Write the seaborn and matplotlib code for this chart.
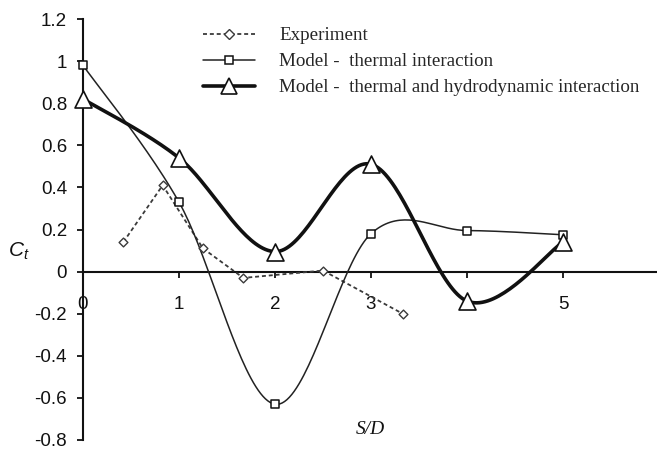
import numpy as np
import pandas as pd
import matplotlib
matplotlib.use("Agg")
import matplotlib.pyplot as plt
from matplotlib.lines import Line2D
from matplotlib.ticker import FixedLocator, FuncFormatter
import seaborn as sns

# Measured thrust coefficient versus spacing ratio S/D
exp_x = [0.42, 0.83, 1.25, 1.67, 2.5, 3.33]
exp_y = [0.14, 0.41, 0.11, -0.03, 0.005, -0.20]

model_x = [0, 1, 2, 3, 4, 5]
thermal_y = [0.98, 0.33, -0.63, 0.18, 0.195, 0.175]
hydro_y = [0.82, 0.54, 0.095, 0.51, -0.14, 0.14]

labels = ["Experiment",
          "Model -  thermal interaction",
          "Model -  thermal and hydrodynamic interaction"]

y_ticks = [1.2, 1.0, 0.8, 0.6, 0.4, 0.2, 0.0, -0.2, -0.4, -0.6, -0.8]
x_ticks = [0, 1, 2, 3, 4, 5, 6]
x_ticklabels = ["0", "1", "2", "3", "4", "5", ""]


def smooth(xs, ys, n=40):
    """Catmull-Rom spline through the points (spreadsheet-style smoothed line)."""
    P = np.column_stack([xs, ys]).astype(float)
    P = np.vstack([P[0], P, P[-1]])
    t = np.linspace(0, 1, n, endpoint=False)[:, None]
    h00 = 2 * t**3 - 3 * t**2 + 1
    h10 = t**3 - 2 * t**2 + t
    h01 = -2 * t**3 + 3 * t**2
    h11 = t**3 - t**2
    parts = []
    for i in range(1, len(P) - 2):
        p0, p1, p2, p3 = P[i - 1], P[i], P[i + 1], P[i + 2]
        m1 = (p2 - p0) / 2
        m2 = (p3 - p1) / 2
        parts.append(h00 * p1 + h10 * m1 + h01 * p2 + h11 * m2)
    parts.append(P[-2][None, :])
    c = np.vstack(parts)
    return c[:, 0], c[:, 1]


sns.set_style("white")
plt.rcParams["font.family"] = ["Liberation Sans", "DejaVu Sans"]
plt.rcParams["axes.unicode_minus"] = False
plt.rcParams["mathtext.fontset"] = "custom"
plt.rcParams["mathtext.it"] = "Liberation Sans:italic"
plt.rcParams["mathtext.rm"] = "Liberation Sans"

W, H = 657, 451
fig = plt.figure(figsize=(W / 100, H / 100), dpi=100)
ax = fig.add_axes([83 / W, 1 - 440 / H, (659 - 83) / W, 421 / H])

ink = "#111111"
grey = "#3a3a3a"

# Experiment: straight dashed segments with diamonds
exp_df = pd.DataFrame({"x": exp_x, "y": exp_y})
sns.lineplot(data=exp_df, x="x", y="y", ax=ax, color=grey, lw=1.3,
             linestyle=(0, (2.2, 1.6)), sort=False, estimator=None, zorder=3)
sns.scatterplot(data=exp_df, x="x", y="y", ax=ax, marker="D", s=20,
                facecolor="white", edgecolor=grey, linewidth=1.0,
                zorder=4, clip_on=False)

# Thermal interaction model: thin smoothed line with squares
sx, sy = smooth(model_x, thermal_y)
sns.lineplot(x=sx, y=sy, ax=ax, color="#222222", lw=1.1, sort=False,
             estimator=None, zorder=3)
sns.scatterplot(x=model_x, y=thermal_y, ax=ax, marker="s", s=30,
                facecolor="white", edgecolor=ink, linewidth=1.1,
                zorder=5, clip_on=False)

# Thermal and hydrodynamic model: thick smoothed line with triangles
hx, hy = smooth(model_x, hydro_y)
sns.lineplot(x=hx, y=hy, ax=ax, color=ink, lw=2.6, sort=False,
             estimator=None, zorder=3)
sns.scatterplot(x=model_x, y=hydro_y, ax=ax, marker="^", s=150,
                facecolor="white", edgecolor=ink, linewidth=1.2,
                zorder=6, clip_on=False)

ax.set_xlim(0, 6)
ax.set_ylim(-0.8, 1.2)
ax.set_xlabel("")
ax.set_ylabel("")

for s in ["top", "right"]:
    ax.spines[s].set_visible(False)
ax.spines["bottom"].set_position(("data", 0))
ax.spines["left"].set_linewidth(1.5)
ax.spines["bottom"].set_linewidth(1.5)
ax.spines["left"].set_color(ink)
ax.spines["bottom"].set_color(ink)

ax.yaxis.set_major_locator(FixedLocator(y_ticks))
ax.yaxis.set_major_formatter(FuncFormatter(lambda v, p: f"{v:g}"))
ax.xaxis.set_major_locator(FixedLocator(x_ticks))
ax.set_xticklabels(x_ticklabels)
ax.tick_params(axis="y", direction="out", length=4.5, width=1.3, pad=7,
               labelsize=13.5, colors=ink, left=True)
ax.tick_params(axis="x", direction="out", length=4.5, width=1.3, pad=13,
               labelsize=13.5, colors=ink, bottom=True)
ax.grid(False)

handles = [
    Line2D([], [], color=grey, lw=1.3, linestyle=(0, (2.2, 1.6)),
           marker="D", ms=4.8, mfc="white", mec=grey, mew=1.0),
    Line2D([], [], color="#222222", lw=1.1, marker="s", ms=5.5, mfc="white",
           mec=ink, mew=1.1),
    Line2D([], [], color=ink, lw=2.6, marker="^", ms=12, mfc="white",
           mec=ink, mew=1.2),
]
fig.legend(handles, labels, loc="upper left",
           bbox_to_anchor=(203 / W, 1 - 27 / H), frameon=False,
           prop={"family": "Liberation Serif", "size": 13.7},
           handlelength=2.74, handletextpad=1.26, labelspacing=0.46,
           borderpad=0, borderaxespad=0, numpoints=1)

fig.text(8 / W, 1 - 251 / H, r"$C_t$", fontsize=15, color=ink,
         ha="left", va="center")
fig.text(370 / W, 1 - 430 / H, "S/D", family="Liberation Serif",
         style="italic", fontsize=14, color=ink, ha="center", va="center")

fig.savefig("out.png", dpi=100)
